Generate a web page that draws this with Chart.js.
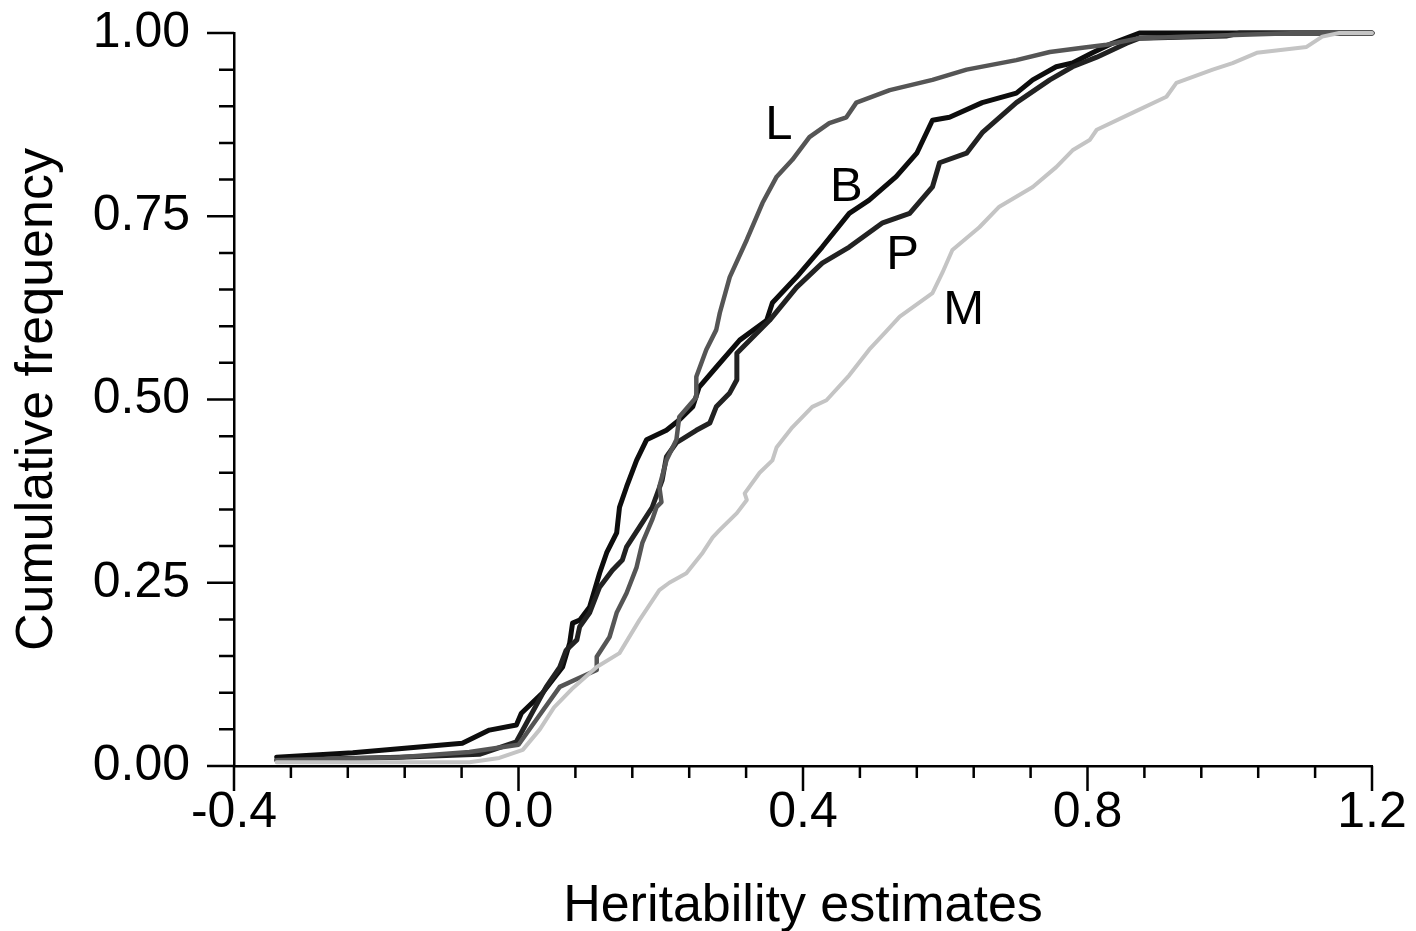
<!DOCTYPE html>
<html>
<head>
<meta charset="utf-8">
<script src="https://cdn.jsdelivr.net/npm/chart.js@4.4.1/dist/chart.umd.min.js"></script>
<style>
    html, body { margin: 0; padding: 0; background: #fff; }
    #wrap { width: 1416px; height: 931px; }
</style>
</head>
<body>
<div id="wrap"><canvas id="cdf"></canvas></div>
<script>
// Curvas de frecuencia acumulada

// L
const lX = [-0.34, -0.167, -0.069, 0.0, 0.03, 0.058, 0.085, 0.11, 0.11, 0.128, 0.138, 0.152, 0.166, 0.174, 0.188, 0.194, 0.201, 0.198, 0.208, 0.222, 0.226, 0.25, 0.25, 0.264, 0.278, 0.283, 0.297, 0.321, 0.343, 0.363, 0.385, 0.409, 0.437, 0.461, 0.475, 0.522, 0.582, 0.63, 0.70, 0.747, 0.793, 0.827, 0.873, 0.995, 1.098, 1.2];
const lY = [0.008, 0.012, 0.019, 0.029, 0.07, 0.108, 0.12, 0.131, 0.149, 0.176, 0.209, 0.236, 0.271, 0.304, 0.336, 0.353, 0.36, 0.381, 0.417, 0.445, 0.476, 0.503, 0.531, 0.568, 0.595, 0.618, 0.667, 0.718, 0.768, 0.804, 0.827, 0.858, 0.877, 0.885, 0.905, 0.922, 0.936, 0.95, 0.963, 0.974, 0.98, 0.984, 0.993, 0.997, 1.0, 1.0];

// B
const bX = [-0.34, -0.233, -0.079, -0.041, -0.003, 0.004, 0.034, 0.062, 0.072, 0.076, 0.086, 0.1, 0.114, 0.124, 0.138, 0.142, 0.152, 0.166, 0.18, 0.208, 0.226, 0.245, 0.254, 0.278, 0.311, 0.349, 0.357, 0.391, 0.427, 0.465, 0.493, 0.531, 0.56, 0.582, 0.606, 0.652, 0.70, 0.723, 0.756, 0.779, 0.807, 0.835, 0.873, 1.2];
const bY = [0.012, 0.018, 0.031, 0.049, 0.056, 0.072, 0.1, 0.135, 0.168, 0.195, 0.199, 0.217, 0.263, 0.291, 0.318, 0.353, 0.381, 0.417, 0.445, 0.458, 0.472, 0.49, 0.517, 0.544, 0.581, 0.608, 0.632, 0.667, 0.708, 0.754, 0.772, 0.804, 0.836, 0.881, 0.885, 0.905, 0.918, 0.936, 0.954, 0.959, 0.973, 0.986, 1.0, 1.0];

// P
const pX = [-0.34, -0.167, -0.055, -0.003, 0.039, 0.058, 0.067, 0.082, 0.086, 0.1, 0.114, 0.132, 0.146, 0.152, 0.17, 0.188, 0.202, 0.208, 0.222, 0.25, 0.269, 0.278, 0.297, 0.307, 0.307, 0.353, 0.391, 0.427, 0.465, 0.512, 0.55, 0.582, 0.592, 0.63, 0.652, 0.70, 0.747, 0.779, 0.813, 0.855, 0.873, 0.995, 1.014, 1.2];
const pY = [0.008, 0.012, 0.016, 0.033, 0.108, 0.135, 0.158, 0.172, 0.19, 0.209, 0.244, 0.267, 0.281, 0.299, 0.326, 0.353, 0.39, 0.422, 0.441, 0.458, 0.468, 0.49, 0.509, 0.527, 0.563, 0.608, 0.653, 0.686, 0.708, 0.741, 0.754, 0.79, 0.823, 0.836, 0.864, 0.905, 0.936, 0.954, 0.967, 0.986, 0.993, 0.996, 1.0, 1.0];

// M
const mX = [-0.34, -0.069, -0.027, 0.006, 0.03, 0.05, 0.075, 0.11, 0.142, 0.17, 0.198, 0.212, 0.236, 0.259, 0.273, 0.283, 0.307, 0.321, 0.318, 0.339, 0.357, 0.363, 0.385, 0.413, 0.433, 0.465, 0.493, 0.515, 0.536, 0.582, 0.596, 0.61, 0.648, 0.676, 0.723, 0.756, 0.779, 0.803, 0.813, 0.863, 0.911, 0.925, 0.976, 1.004, 1.038, 1.108, 1.13, 1.154, 1.2];
const mY = [0.005, 0.005, 0.011, 0.022, 0.05, 0.08, 0.105, 0.135, 0.154, 0.199, 0.24, 0.25, 0.263, 0.291, 0.312, 0.322, 0.345, 0.363, 0.372, 0.4, 0.417, 0.435, 0.462, 0.49, 0.499, 0.533, 0.568, 0.591, 0.613, 0.645, 0.673, 0.704, 0.735, 0.763, 0.79, 0.817, 0.84, 0.854, 0.868, 0.891, 0.913, 0.932, 0.95, 0.959, 0.973, 0.981, 0.995, 1.0, 1.0];

const FONT = "'Liberation Sans', Arial, Helvetica, sans-serif";

const toPoints = (xs, ys) => xs.map((x, i) => ({ x: x, y: ys[i] }));

// etiquetas de las curvas, colocadas en coordenadas de datos
const curveLabels = [
    { text: 'L', x: 0.366, y: 0.874 },
    { text: 'B', x: 0.461, y: 0.789 },
    { text: 'P', x: 0.540, y: 0.696 },
    { text: 'M', x: 0.626, y: 0.621 }
];

const isMultiple = (v, step) => Math.abs(v / step - Math.round(v / step)) < 1e-6;

// marcas de los ejes (mayores y menores) y etiquetas de las curvas
const extras = {
    id: 'extras',
    afterDraw(chart) {
        const ctx = chart.ctx;
        const xs = chart.scales.x, ys = chart.scales.y;
        const area = chart.chartArea;
        ctx.save();
        ctx.strokeStyle = '#000';
        ctx.lineWidth = 2.5;
        ctx.beginPath();
        xs.ticks.forEach(t => {
            const px = xs.getPixelForValue(t.value);
            const len = isMultiple(t.value, 0.4) ? 25 : 12;
            ctx.moveTo(px, area.bottom);
            ctx.lineTo(px, area.bottom + len);
        });
        ys.ticks.forEach(t => {
            const py = ys.getPixelForValue(t.value);
            const len = isMultiple(t.value, 0.25) ? 27 : 15;
            ctx.moveTo(area.left, py);
            ctx.lineTo(area.left - len, py);
        });
        ctx.stroke();

        ctx.fillStyle = '#000';
        ctx.font = '49px ' + FONT;
        ctx.textAlign = 'center';
        ctx.textBaseline = 'middle';
        curveLabels.forEach(l => {
            ctx.fillText(l.text, xs.getPixelForValue(l.x), ys.getPixelForValue(l.y));
        });
        ctx.restore();
    }
};

const lineStyle = (color, width) => ({
    borderColor: color,
    borderWidth: width,
    pointRadius: 0,
    tension: 0,
    fill: false,
    clip: false,
    borderJoinStyle: 'round',
    borderCapStyle: 'round'
});

new Chart(document.getElementById('cdf'), {
    type: 'line',
    data: {
        datasets: [
            Object.assign({ label: 'M', data: toPoints(mX, mY) }, lineStyle('#c4c4c4', 4)),
            Object.assign({ label: 'L', data: toPoints(lX, lY) }, lineStyle('#555555', 4.5)),
            Object.assign({ label: 'P', data: toPoints(pX, pY) }, lineStyle('#222222', 5)),
            Object.assign({ label: 'B', data: toPoints(bX, bY) }, lineStyle('#0d0d0d', 5))
        ]
    },
    options: {
        responsive: true,
        maintainAspectRatio: false,
        animation: false,
        layout: { padding: { top: 33, right: 44, left: 0, bottom: 0 } },
        plugins: {
            legend: { display: false },
            tooltip: { enabled: false }
        },
        scales: {
            x: {
                type: 'linear',
                min: -0.4,
                max: 1.2,
                grid: { display: false, drawTicks: false },
                border: { display: true, color: '#000', width: 2.5 },
                ticks: {
                    stepSize: 0.08,
                    autoSkip: false,
                    maxRotation: 0,
                    padding: 17,
                    color: '#000',
                    font: { family: FONT, size: 50 },
                    callback: v => isMultiple(v, 0.4) ? (Math.round(v * 10) / 10).toFixed(1) : ''
                },
                title: {
                    display: true,
                    text: 'Heritability estimates',
                    color: '#000',
                    font: { family: FONT, size: 52, lineHeight: 0.95 },
                    padding: { top: 0, bottom: 0 }
                },
                afterFit: scale => {
                    scale.height = 165;
                    scale.paddingLeft = 0;
                    scale.paddingRight = 0;
                }
            },
            y: {
                type: 'linear',
                min: 0,
                max: 1,
                grid: { display: false, drawTicks: false },
                border: { display: true, color: '#000', width: 2.5 },
                ticks: {
                    stepSize: 0.05,
                    autoSkip: false,
                    padding: 44,
                    color: '#000',
                    font: { family: FONT, size: 50 },
                    callback: v => isMultiple(v, 0.25) ? v.toFixed(2) : ''
                },
                title: {
                    display: true,
                    text: 'Cumulative frequency',
                    color: '#000',
                    font: { family: FONT, size: 52, lineHeight: 1.1 },
                    padding: { top: 9, bottom: 0 }
                },
                afterFit: scale => {
                    scale.width = 234;
                    scale.paddingTop = 0;
                    scale.paddingBottom = 0;
                }
            }
        }
    },
    plugins: [extras]
});
</script>
</body>
</html>
